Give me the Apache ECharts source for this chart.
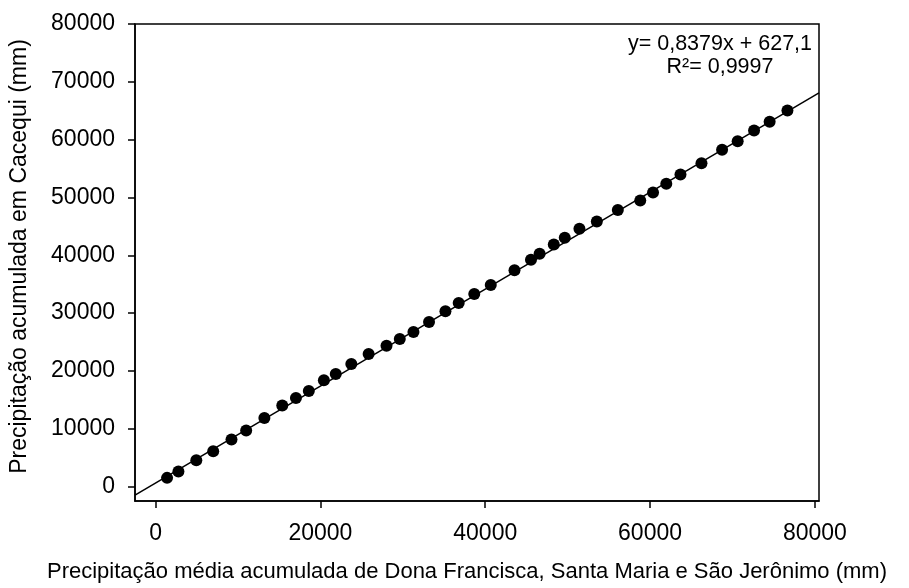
<!DOCTYPE html>
<html>
<head>
<meta charset="utf-8">
<script src="https://cdn.jsdelivr.net/npm/echarts@6/dist/echarts.min.js"></script>
<style>
  html, body { margin: 0; padding: 0; background: #fff; }
  #chart { width: 909px; height: 588px; }
</style>
</head>
<body>
<div id="chart"></div>
<script>
// média acumulada (Dona Francisca, Santa Maria, São Jerônimo), mm
const mediaAcumulada = [
  1390, 2770, 4940, 6990, 9210, 10990, 13200, 15370, 17030, 18590,
  20420, 21860, 23750, 25850, 28020, 29630, 31290, 33180, 35170, 36780,
  38670, 40670, 43550, 45550, 46600, 48320, 49650, 51430, 53540, 56090,
  58810, 60360, 61970, 63690, 66240, 68740, 70630, 72620, 74510, 76670
]
// acumulada em Cacequi, mm
const cacequiAcumulada = [
  1500, 2590, 4550, 6110, 8120, 9680, 11870, 14000, 15320, 16530,
  18380, 19470, 21200, 22930, 24370, 25520, 26730, 28460, 30300, 31740,
  33300, 34850, 37390, 39230, 40270, 41880, 43030, 44590, 45850, 47810,
  49480, 50860, 52360, 53980, 55930, 58240, 59740, 61580, 63080, 65040
]
const xTicks = [0, 20000, 40000, 60000, 80000]
const yTicks = [0, 10000, 20000, 30000, 40000, 50000, 60000, 70000, 80000]
const fitSlope = 0.8379
const fitIntercept = 627.1
const fitText = ['y= 0,8379x + 627,1', 'R²= 0,9997']

const xMin = -2500
const xMax = 80500
const font = 'Liberation Sans, Arial, sans-serif'

const points = mediaAcumulada.map((x, i) => [x, cacequiAcumulada[i]])
const fitLine = [xMin, xMax].map(x => [x, fitSlope * x + fitIntercept])

const axisCommon = {
  type: 'value',
  nameLocation: 'middle',
  axisLine: { onZero: false, lineStyle: { color: '#000', width: 1.5 } },
  splitLine: { show: false },
}

const chart = echarts.init(document.getElementById('chart'))
chart.setOption({
  animation: false,
  textStyle: { fontFamily: font },
  grid: {
    left: 133, right: 90, top: 24, bottom: 86,
    show: true, borderColor: '#000', borderWidth: 1.5,
  },
  xAxis: {
    ...axisCommon,
    min: xMin,
    max: xMax,
    name: 'Precipitação média acumulada de Dona Francisca, Santa Maria e São Jerônimo (mm)',
    nameGap: 60,
    nameTextStyle: { fontSize: 22, color: '#000', fontFamily: font, padding: [0, 20, 0, 0] },
    axisTick: { length: 7, lineStyle: { color: '#000', width: 1.5 }, customValues: xTicks },
    axisLabel: {
      fontSize: 23, color: '#000', margin: 21, fontFamily: font,
      customValues: xTicks, formatter: v => String(v),
    },
  },
  yAxis: {
    ...axisCommon,
    min: -2500,
    max: 80000,
    name: 'Precipitação acumulada em Cacequi (mm)',
    nameGap: 104,
    nameTextStyle: { fontSize: 23, color: '#000', fontFamily: font, padding: [0, 0, 0, 12] },
    axisTick: { length: 7, lineStyle: { color: '#000', width: 1.5 }, customValues: yTicks },
    axisLabel: {
      fontSize: 23, color: '#000', margin: 20, fontFamily: font,
      customValues: yTicks, formatter: v => String(v),
    },
  },
  graphic: fitText.map((t, i) => ({
    type: 'text',
    x: 720,
    y: 44 + i * 23,
    style: {
      text: t,
      fill: '#000',
      align: 'center',
      verticalAlign: 'middle',
      font: '21.5px ' + font,
    },
  })),
  series: [
    {
      type: 'line',
      data: fitLine,
      symbol: 'none',
      silent: true,
      lineStyle: { color: '#000', width: 1.5 },
      z: 1,
    },
    {
      type: 'scatter',
      data: points,
      symbol: 'circle',
      symbolSize: 12,
      itemStyle: { color: '#000', opacity: 1 },
      z: 2,
    },
  ],
})
window.addEventListener('resize', () => {
  chart.resize()
})
</script>
</body>
</html>
